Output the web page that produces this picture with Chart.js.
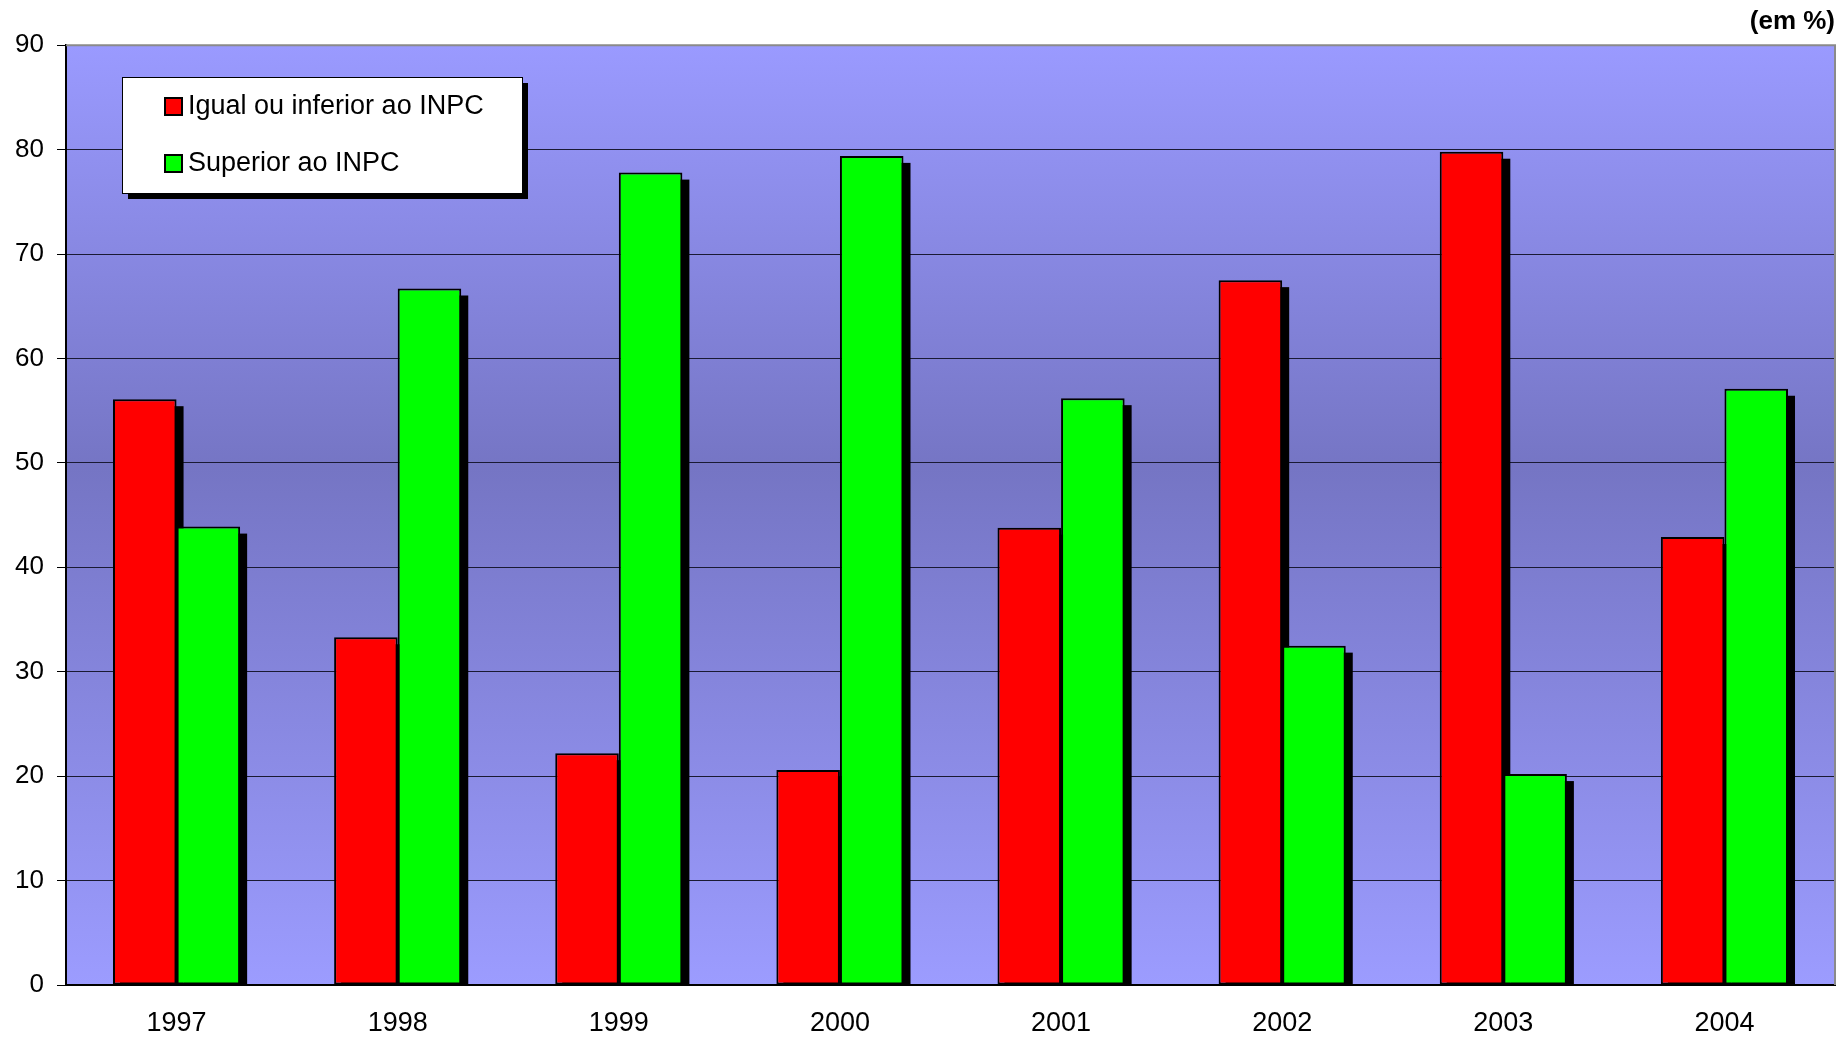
<!DOCTYPE html>
<html>
<head>
<meta charset="utf-8">
<script src="https://cdn.jsdelivr.net/npm/chart.js@4.4.0/dist/chart.umd.min.js"></script>
<style>
  html, body { margin: 0; padding: 0; background: #fff; }
  #wrap { width: 1847px; height: 1041px; }
</style>
</head>
<body>
<div id="wrap"><canvas id="grafico"></canvas></div>
<script>
// Datos (em %)
const anos = ['1997', '1998', '1999', '2000', '2001', '2002', '2003', '2004'];
const igualOuInferior = [56.1, 33.3, 22.2, 20.6, 43.8, 67.5, 79.8, 42.9];
const superior = [43.9, 66.7, 77.8, 79.4, 56.2, 32.5, 20.2, 57.1];
const ticksY = [0, 10, 20, 30, 40, 50, 60, 70, 80, 90];

const FONTE = 'Liberation Sans, Arial, sans-serif';

// fondo degradado del área de trazado
const fondoPlugin = {
    id: 'fondo',
    beforeDraw(chart) {
        const { ctx, chartArea: a } = chart;
        const g = ctx.createLinearGradient(0, a.top, 0, a.bottom);
        g.addColorStop(0, '#9a9aff');
        g.addColorStop(0.45, '#7575c4');
        g.addColorStop(1, '#9c9cff');
        ctx.save();
        ctx.fillStyle = g;
        ctx.fillRect(a.left, a.top, a.right - a.left, a.bottom - a.top);
        ctx.restore();
    },
    afterDraw(chart) {
        const { ctx, chartArea: a } = chart;
        // borde gris superior y derecho
        ctx.save();
        ctx.strokeStyle = '#8a8a8a';
        ctx.lineWidth = 2;
        ctx.beginPath();
        ctx.moveTo(a.left, a.top);
        ctx.lineTo(a.right, a.top);
        ctx.lineTo(a.right, a.bottom);
        ctx.stroke();
        ctx.restore();
    }
};

// sombra negra de las barras (se dibuja antes de las barras)
const sombraPlugin = {
    id: 'sombra',
    beforeDatasetsDraw(chart) {
        const { ctx, chartArea: a } = chart;
        ctx.save();
        ctx.beginPath();
        ctx.rect(a.left, a.top, a.right - a.left, a.bottom - a.top);
        ctx.clip();
        ctx.fillStyle = '#000';
        chart.data.datasets.forEach((ds, i) => {
            chart.getDatasetMeta(i).data.forEach(bar => {
                const p = bar.getProps(['x', 'y', 'base', 'width'], true);
                ctx.fillRect(p.x - p.width / 2 + 7, p.y + 7, p.width, p.base - p.y);
            });
        });
        ctx.restore();
    }
};

// leyenda dentro del área, con sombra
const leyendaPlugin = {
    id: 'leyendaCaja',
    afterDraw(chart) {
        const { ctx } = chart;
        const x = 122, y = 77, w = 400, h = 116;
        ctx.save();
        ctx.fillStyle = '#000';
        ctx.fillRect(x + 6, y + 6, w, h);
        ctx.fillStyle = '#fff';
        ctx.fillRect(x, y, w, h);
        ctx.strokeStyle = '#000';
        ctx.lineWidth = 1;
        ctx.strokeRect(x + 0.5, y + 0.5, w, h);
        ctx.font = '27px ' + FONTE;
        ctx.textBaseline = 'middle';
        chart.data.datasets.forEach((ds, i) => {
            const cy = y + 29 + i * 57;
            ctx.fillStyle = ds.backgroundColor;
            ctx.fillRect(165, cy - 8, 17, 17);
            ctx.lineWidth = 2;
            ctx.strokeStyle = '#000';
            ctx.strokeRect(165, cy - 8, 17, 17);
            ctx.fillStyle = '#000';
            ctx.fillText(ds.label, 188, cy + 1);
        });
        ctx.restore();
    }
};

const ctx = document.getElementById('grafico');
new Chart(ctx, {
    type: 'bar',
    data: {
        labels: anos,
        datasets: [
            {
                label: 'Igual ou inferior ao INPC',
                data: igualOuInferior,
                backgroundColor: '#ff0000',
                borderColor: '#000',
                borderWidth: 2,
                borderSkipped: false,
                clip: 0
            },
            {
                label: 'Superior ao INPC',
                data: superior,
                backgroundColor: '#00ff00',
                borderColor: '#000',
                borderWidth: 2,
                borderSkipped: false,
                clip: 0
            }
        ]
    },
    options: {
        responsive: true,
        maintainAspectRatio: false,
        animation: false,
        datasets: { bar: { categoryPercentage: 0.575, barPercentage: 1.0 } },
        layout: { padding: { left: 0, right: 12, top: 0, bottom: 0 } },
        plugins: {
            legend: { display: false },
            tooltip: { enabled: false },
            title: {
                display: true,
                text: '(em %)',
                align: 'end',
                color: '#000',
                font: { family: FONTE, size: 26, weight: 'bold', lineHeight: 1.2 },
                padding: { top: 6, bottom: 8 }
            }
        },
        scales: {
            x: {
                grid: { display: false, drawTicks: false },
                border: { display: true, color: '#000', width: 2 },
                ticks: { color: '#000', font: { family: FONTE, size: 27 }, padding: 22 },
                afterFit: (scale) => { scale.height = 56; }
            },
            y: {
                min: 0,
                max: 90,
                afterBuildTicks: (scale) => { scale.ticks = ticksY.map(v => ({ value: v })); },
                grid: {
                    color: (c) => c.tick && c.tick.value === 90 ? '#8a8a8a' : '#1a1a33',
                    lineWidth: 1,
                    tickLength: 9,
                    tickColor: '#000',
                    drawOnChartArea: true
                },
                border: { display: true, color: '#000', width: 2 },
                ticks: { color: '#000', font: { family: FONTE, size: 26 }, padding: 13 },
                afterFit: (scale) => { scale.width = 66; }
            }
        }
    },
    plugins: [fondoPlugin, sombraPlugin, leyendaPlugin]
});
</script>
</body>
</html>
